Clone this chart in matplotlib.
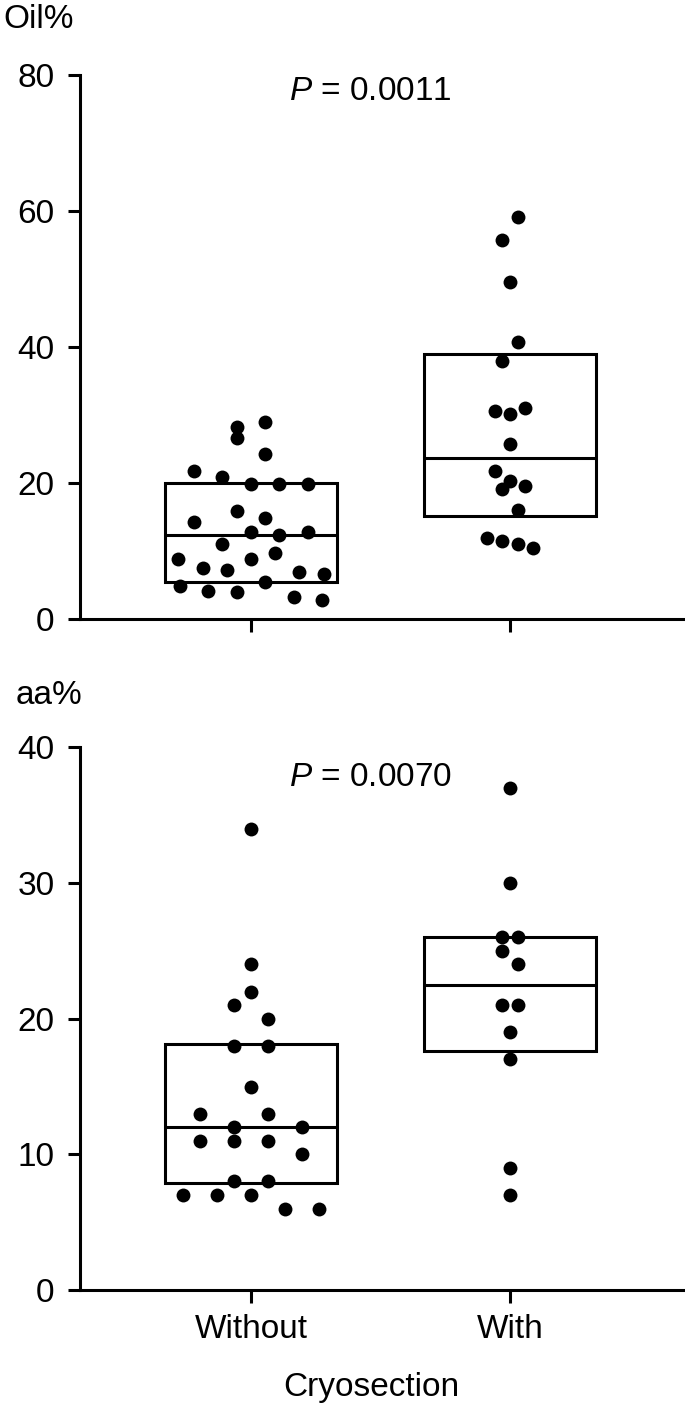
import numpy as np
import matplotlib
matplotlib.use('Agg')
import matplotlib.pyplot as plt

plt.rcParams['font.family'] = ['Liberation Sans', 'DejaVu Sans']
plt.rcParams['mathtext.fontset'] = 'custom'
plt.rcParams['mathtext.rm'] = 'Liberation Sans'
plt.rcParams['mathtext.it'] = 'Liberation Sans:italic'

# values (order inside a row = left to right)
groups = ['Without', 'With']

oil_without = [4.9, 4.1, 4.0, 5.4, 3.3, 2.8,
               8.8, 7.5, 7.2, 8.8, 9.7, 6.9, 6.6,
               14.3, 11.1, 12.75, 12.4, 12.75,
               15.9, 14.8,
               21.8, 20.9, 19.9, 19.9, 19.9,
               26.6, 24.2,
               28.3, 29.0]
oil_with = [11.9, 11.5, 11.0, 10.4, 19.1, 16.1, 21.7, 20.3, 19.6,
            25.7, 30.6, 30.1, 31.1, 38.0, 40.8, 49.5, 55.8, 59.1]

aa_without = [7, 7, 7, 6, 6, 8, 8, 11, 11, 11, 10, 13, 12, 13, 12,
              15, 18, 18, 21, 20, 22, 24, 34]
aa_with = [7, 9, 17, 19, 21, 21, 25, 24, 26, 26, 30, 37]

# box: lower quartile, median, upper quartile
oil_q1 = [5.5, 15.2]
oil_med = [12.35, 23.7]
oil_q3 = [20.0, 38.9]

aa_q1 = [7.9, 17.6]
aa_med = [12.0, 22.5]
aa_q3 = [18.1, 26.0]

oil_p = 'P = 0.0011'
aa_p = 'P = 0.0070'


def swarm_x(center, values, row_h, step, max_span):
    vals = np.asarray(values, dtype=float)
    order = np.argsort(vals, kind='stable')
    xs = np.zeros(len(vals))
    rows, cur, start = [], [order[0]], vals[order[0]]
    for i in order[1:]:
        if vals[i] - start < row_h:
            cur.append(i)
        else:
            rows.append(cur)
            cur, start = [i], vals[i]
    rows.append(cur)
    for row in rows:
        row = sorted(row)
        n = len(row)
        s = step if n < 2 else min(step, max_span / (n - 1))
        xs[row] = center + (np.arange(n) - (n - 1) / 2) * s
    return xs


fig = plt.figure(figsize=(6.85, 14.04), dpi=100)
ax1 = fig.add_axes([0.1161, 0.5591, 0.884, 0.3875])
ax2 = fig.add_axes([0.1161, 0.0812, 0.884, 0.3865])

lw = 2.2
fs = 24
box_w = 0.664


def panel(ax, data, q1, med, q3, ymax, yticks, row_h, steps, ptext, py):
    x = np.arange(len(groups))
    ax.bar(x, np.array(q3) - np.array(q1), bottom=q1, width=box_w,
           fill=False, edgecolor='black', linewidth=lw, zorder=2)
    ax.hlines(med, x - box_w / 2, x + box_w / 2, color='black',
              linewidth=lw, zorder=2)
    for i, vals in enumerate(data):
        xs = swarm_x(x[i], vals, row_h, steps[i], 0.56)
        ax.scatter(xs, vals, s=100, color='black', linewidths=0,
                   zorder=3, clip_on=False)
    ax.set_xlim(-0.662, 1.676)
    ax.set_ylim(0, ymax)
    ax.set_yticks(yticks)
    ax.set_xticks(x)
    for sp in ['top', 'right']:
        ax.spines[sp].set_visible(False)
    for sp in ['left', 'bottom']:
        ax.spines[sp].set_linewidth(lw)
    ax.tick_params(axis='both', length=9, width=lw, labelsize=fs)
    ax.tick_params(axis='y', pad=9)
    ax.tick_params(axis='x', pad=8)
    t = ptext.replace('P', r'$\mathit{P}$', 1)
    ax.text(0.46, py, t, ha='center', va='center', fontsize=fs)


panel(ax1, [oil_without, oil_with], oil_q1, oil_med, oil_q3, 80,
      [0, 20, 40, 60, 80], 3.4, [0.110, 0.059], oil_p, 77.5)
ax1.set_xticklabels([])

panel(ax2, [aa_without, aa_with], aa_q1, aa_med, aa_q3, 40,
      [0, 10, 20, 30, 40], 1.7, [0.132, 0.059], aa_p, 37.8)
ax2.set_xticklabels(groups)

fig.text(3 / 685, 1 - 28.3 / 1404, 'Oil%', ha='left', va='baseline', fontsize=fs)
fig.text(16 / 685, 1 - 704.3 / 1404, 'aa%', ha='left', va='baseline', fontsize=fs)
fig.text(371 / 685, 1 - 1396 / 1404, 'Cryosection', ha='center',
         va='baseline', fontsize=fs)

plt.savefig('out.png', dpi=100)
